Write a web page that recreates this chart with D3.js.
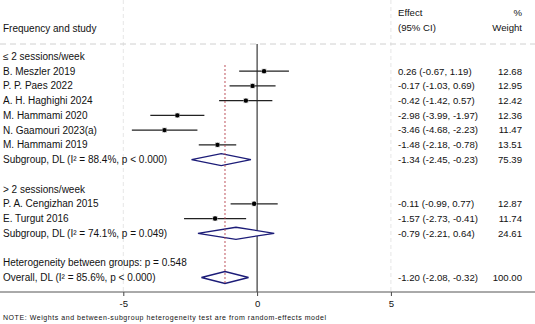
<!DOCTYPE html>
<html>
<head>
<meta charset="utf-8">
<script src="https://cdn.jsdelivr.net/npm/d3@7"></script>
<style>
  body { margin: 0; background: #fff; }
  text { font-family: "Liberation Sans", Arial, sans-serif; fill: #111; }
</style>
</head>
<body>
<div id="chart"></div>
<script>
// study level data
var studyLabels = ["B. Meszler 2019", "P. P. Paes 2022", "A. H. Haghighi 2024", "M. Hammami 2020",
  "N. Gaamouri 2023(a)", "M. Hammami 2019", "P. A. Cengizhan 2015", "E. Turgut 2016"];
var effect = [0.26, -0.17, -0.42, -2.98, -3.46, -1.48, -0.11, -1.57];
var lower = [-0.67, -1.03, -1.42, -3.99, -4.68, -2.18, -0.99, -2.73];
var upper = [1.19, 0.69, 0.57, -1.97, -2.23, -0.78, 0.77, -0.41];
var weight = [12.68, 12.95, 12.42, 12.36, 11.47, 13.51, 12.87, 11.74];
var groupOf = [0, 0, 0, 0, 0, 0, 1, 1];

// subgroups
var groupNames = ["\u2264 2 sessions/week", "> 2 sessions/week"];
var subLabels = ["Subgroup, DL (I\u00b2 = 88.4%, p < 0.000)", "Subgroup, DL (I\u00b2 = 74.1%, p = 0.049)"];
var subEffect = [-1.34, -0.79];
var subLower = [-2.45, -2.21];
var subUpper = [-0.23, 0.64];
var subWeight = [75.39, 24.61];

// overall
var hetLabel = "Heterogeneity between groups: p = 0.548";
var overallLabel = "Overall, DL (I\u00b2 = 85.6%, p < 0.000)";
var overall = { effect: -1.20, lower: -2.08, upper: -0.32, weight: 100.00 };

var xTicks = [-5, 0, 5];
var note = "NOTE: Weights and between-subgroup heterogeneity test are from random-effects model";

var svgWidth = 535;
var svgHeight = 324;
var fs = 9.6;
var labFs = 10;

var svg = d3.select("#chart").append("svg")
  .attr("width", svgWidth)
  .attr("height", svgHeight);

var x = d3.scaleLinear().domain([-5, 5]).range([123.3, 390.9]);
var y = d3.scaleLinear().domain([0, 15]).range([56.4, 277.5]);
var axisY = 292;

// plain hyphen instead of unicode minus
var f2 = v => d3.format(".2f")(v).replace("\u2212", "-");

// build the row list
var rows = [];
var r = 0;
groupNames.forEach(function(g, gi) {
  rows.push({ type: "head", label: g, row: r++ });
  studyLabels.forEach(function(s, i) {
    if (groupOf[i] === gi) {
      rows.push({ type: "study", label: s, est: effect[i], lo: lower[i], hi: upper[i], w: weight[i], row: r++ });
    }
  });
  rows.push({ type: "sub", label: subLabels[gi], est: subEffect[gi], lo: subLower[gi], hi: subUpper[gi], w: subWeight[gi], row: r++ });
  r++; // blank
});
rows.push({ type: "head", label: hetLabel, row: r++ });
rows.push({ type: "sub", label: overallLabel, est: overall.effect, lo: overall.lower, hi: overall.upper, w: overall.weight, row: r++ });

// grid lines at -5 and 5
svg.selectAll(".grid")
  .data([-5, 5])
  .enter().append("line")
  .attr("x1", d => x(d)).attr("x2", d => x(d))
  .attr("y1", 0).attr("y2", axisY)
  .attr("stroke", "#e6e6e6")
  .attr("stroke-width", 1)
  .attr("stroke-dasharray", "4,3");

// header separator
svg.append("line")
  .attr("x1", 0).attr("x2", svgWidth)
  .attr("y1", 44).attr("y2", 44)
  .attr("stroke", "#d0d0d0")
  .attr("stroke-dasharray", "6,4");

// null line
svg.append("line")
  .attr("x1", x(0)).attr("x2", x(0))
  .attr("y1", 44).attr("y2", axisY)
  .attr("stroke", "#111")
  .attr("stroke-width", 1);

// axis
var axis = d3.axisBottom(x).tickValues(xTicks).tickSize(4).tickFormat(d => String(d));
var axisG = svg.append("g")
  .attr("transform", `translate(0, ${axisY})`)
  .call(axis);
axisG.select(".domain").remove();
axisG.selectAll("text").attr("font-size", fs).attr("dy", "0.85em").attr("fill", "#111")
  .style("font-family", "'Liberation Sans', Arial, sans-serif");
axisG.selectAll(".tick line").attr("stroke", "#444");
svg.append("line")
  .attr("x1", 0).attr("x2", svgWidth)
  .attr("y1", axisY).attr("y2", axisY)
  .attr("stroke", "#555")
  .attr("stroke-width", 1);

// headers
svg.append("text").attr("x", 3).attr("y", 28).attr("dy", "0.35em").attr("font-size", labFs).text("Frequency and study");
svg.append("text").attr("x", 398).attr("y", 13).attr("dy", "0.35em").attr("font-size", fs).text("Effect");
svg.append("text").attr("x", 398).attr("y", 28).attr("dy", "0.35em").attr("font-size", fs).text("(95% CI)");
svg.append("text").attr("x", 522).attr("y", 13).attr("dy", "0.35em").attr("font-size", fs).attr("text-anchor", "end").text("%");
svg.append("text").attr("x", 522).attr("y", 28).attr("dy", "0.35em").attr("font-size", fs).attr("text-anchor", "end").text("Weight");

// row labels
svg.selectAll(".lab")
  .data(rows)
  .enter().append("text")
  .attr("x", 3)
  .attr("y", d => y(d.row))
  .attr("dy", "0.35em")
  .attr("font-size", labFs)
  .text(d => d.label);

var withEst = rows.filter(d => d.est !== undefined);

svg.selectAll(".ci")
  .data(withEst)
  .enter().append("text")
  .attr("x", 398)
  .attr("y", d => y(d.row))
  .attr("dy", "0.35em")
  .attr("font-size", fs)
  .text(d => `${f2(d.est)} (${f2(d.lo)}, ${f2(d.hi)})`);

svg.selectAll(".wt")
  .data(withEst)
  .enter().append("text")
  .attr("x", 522)
  .attr("y", d => y(d.row))
  .attr("dy", "0.35em")
  .attr("font-size", fs)
  .attr("text-anchor", "end")
  .text(d => f2(d.w));

// study CIs and markers
var studies = rows.filter(d => d.type === "study");
svg.selectAll(".ciline")
  .data(studies)
  .enter().append("line")
  .attr("x1", d => x(d.lo)).attr("x2", d => x(d.hi))
  .attr("y1", d => y(d.row)).attr("y2", d => y(d.row))
  .attr("stroke", "#222")
  .attr("stroke-width", 1.2);

svg.selectAll(".box")
  .data(studies)
  .enter().append("rect")
  .attr("x", d => x(d.est) - 2.5)
  .attr("y", d => y(d.row) - 2.5)
  .attr("width", 5).attr("height", 5)
  .attr("fill", "#c4c4c4");

svg.selectAll(".dot")
  .data(studies)
  .enter().append("circle")
  .attr("cx", d => x(d.est))
  .attr("cy", d => y(d.row))
  .attr("r", 2.2)
  .attr("fill", "#000");

// diamonds
var subs = rows.filter(d => d.type === "sub");
svg.selectAll(".diamond")
  .data(subs)
  .enter().append("path")
  .attr("d", function(d) {
    var cy = y(d.row), h = 6;
    return `M${x(d.lo)},${cy}L${x(d.est)},${cy - h}L${x(d.hi)},${cy}L${x(d.est)},${cy + h}Z`;
  })
  .attr("fill", "#fff")
  .attr("stroke", "#1c1c78")
  .attr("stroke-width", 1.3);

// overall effect line, on top of the diamonds
svg.append("line")
  .attr("x1", x(overall.effect)).attr("x2", x(overall.effect))
  .attr("y1", 65).attr("y2", 285)
  .attr("stroke", "#b5404a")
  .attr("stroke-width", 0.9)
  .attr("stroke-dasharray", "2,2");

svg.append("text")
  .attr("x", 3).attr("y", 318)
  .attr("dy", "0.35em")
  .attr("font-size", 7)
  .attr("textLength", 323)
  .attr("lengthAdjust", "spacing")
  .text(note);
</script>
</body>
</html>
